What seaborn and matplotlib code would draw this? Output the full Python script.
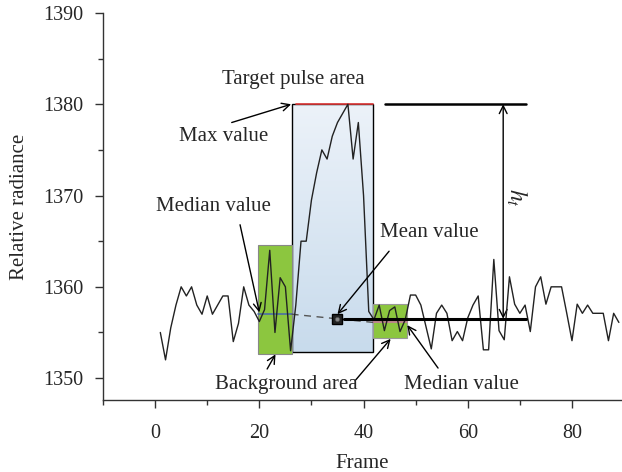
import numpy as np
import pandas as pd
import seaborn as sns
import matplotlib.pyplot as plt
from matplotlib.patches import Rectangle
from matplotlib.colors import LinearSegmentedColormap

# radiance trace, one value per frame
frames = list(range(1, 90))
radiance = [
    1355, 1352, 1355.5, 1358, 1360, 1359, 1360, 1358, 1357, 1359,
    1357, 1358, 1359, 1359, 1354, 1356, 1360, 1358, 1357.3, 1356.2,
    1357.5, 1364, 1355, 1361, 1360, 1353, 1358, 1365, 1365, 1369.5,
    1372.5, 1375, 1374, 1376.5, 1378, 1379, 1380, 1374, 1378, 1370,
    1357.3, 1356.4, 1358, 1355.2, 1357.4, 1357.8, 1355.1, 1356.4, 1359.1, 1359.1,
    1358, 1355.6, 1353.2, 1357.1, 1358, 1357.1, 1354.1, 1355.1, 1354.1, 1356.6,
    1358, 1359, 1353.1, 1353.1, 1363, 1355.2, 1354.2, 1361.1, 1358.1, 1357.1,
    1358, 1355.1, 1360, 1361.1, 1358.1, 1360, 1360, 1360, 1357.1, 1354.1,
    1358.1, 1357.1, 1358, 1357.1, 1357.1, 1357.1, 1354.1, 1357.1, 1356.1,
]

# regions / summary values
pulse_span = [26.2, 41.9]
pulse_bottom = 1352.9
max_value = 1380
bg_left_span = [19.8, 26.2]
bg_left_y = [1352.6, 1364.6]
bg_right_span = [41.9, 48.3]
bg_right_y = [1354.4, 1358.1]
median_left = 1357.0
median_right = 1356.1
mean_frame = 34.9
mean_value = 1356.5

x_ticks = [0, 20, 40, 60, 80]
y_ticks = [1350, 1360, 1370, 1380, 1390]

df = pd.DataFrame({"Frame": frames, "Relative radiance": radiance})

sns.set_style("ticks")
plt.rcParams["font.family"] = ["Liberation Serif", "DejaVu Serif"]
plt.rcParams["mathtext.fontset"] = "stix"

fig = plt.figure(figsize=(6.22, 4.72), dpi=100)
ax = fig.add_axes([0.1656, 0.1525, 0.8344, 0.82])

# target pulse area (gradient box)
cmap = LinearSegmentedColormap.from_list("pulse", ["#ecf2f9", "#c8dbec"])
ax.imshow(np.linspace(0, 1, 100).reshape(-1, 1), extent=[pulse_span[0], pulse_span[1], pulse_bottom, max_value],
          cmap=cmap, aspect="auto", origin="upper", zorder=1)
ax.add_patch(Rectangle((pulse_span[0], pulse_bottom), pulse_span[1] - pulse_span[0], max_value - pulse_bottom,
                       fill=False, ec="black", lw=1.0, zorder=2))

# background areas
ax.add_patch(Rectangle((bg_left_span[0], bg_left_y[0]), bg_left_span[1] - bg_left_span[0], bg_left_y[1] - bg_left_y[0],
                       fc="#8cc63f", ec="#888888", lw=0.8, zorder=2))
ax.add_patch(Rectangle((bg_right_span[0], bg_right_y[0]), bg_right_span[1] - bg_right_span[0], bg_right_y[1] - bg_right_y[0],
                       fc="#8cc63f", ec="#999999", lw=0.8, zorder=2))

# medians and dashed link
ax.plot(bg_left_span, [median_left, median_left], color="#4a6ea8", lw=1.2, zorder=3)
ax.plot(bg_right_span, [median_right, median_right], color="#c77b9b", lw=1.2, zorder=3)
ax.plot([bg_left_span[1], bg_right_span[0]], [median_left, median_right], color="#555555", lw=1.0,
        ls=(0, (5, 4)), zorder=3)

# max value line
ax.plot([pulse_span[0] + 0.8, pulse_span[1]], [max_value, max_value], color="#e03a3a", lw=1.2, zorder=3)

sns.lineplot(data=df, x="Frame", y="Relative radiance", color="#222222", lw=1.0, ax=ax, zorder=4)

# mean marker
ax.plot(mean_frame, mean_value, "s", ms=7, mfc="#222222", mec="black", zorder=6)
ax.plot(mean_frame, mean_value, "o", ms=3, mfc="#888888", mec="#555555", mew=0.5, zorder=7)

# h_t construction
ax.plot([36.3, 71.2], [mean_value, mean_value], color="black", lw=2.2, zorder=5)
ax.plot([44.2, 71.2], [max_value, max_value], color="black", lw=1.8, zorder=5)
ax.annotate("", xy=(66.8, max_value), xytext=(66.8, mean_value),
            arrowprops=dict(arrowstyle="<->", lw=1.0, color="black", mutation_scale=14, shrinkA=0, shrinkB=0))
ax.text(69.4, 1369.8, "$h_t$", rotation=270, fontsize=17, ha="center", va="center")

fs = 15
ax.text(26.5, 1382.7, "Target pulse area", fontsize=fs, ha="center", va="center")
ax.text(13.1, 1376.5, "Max value", fontsize=fs, ha="center", va="center")
ax.text(11.2, 1368.8, "Median value", fontsize=fs, ha="center", va="center")
ax.text(52.7, 1366.0, "Mean value", fontsize=fs, ha="center", va="center")
ax.text(25.1, 1349.3, "Background area", fontsize=fs, ha="center", va="center")
ax.text(58.7, 1349.3, "Median value", fontsize=fs, ha="center", va="center")

arrows = [
    ((14.7, 1378.0), (26.1, 1380.0)),
    ((16.3, 1366.8), (20.0, 1357.2)),
    ((44.9, 1363.9), (35.0, 1357.0)),
    ((21.5, 1351.0), (23.1, 1352.6)),
    ((38.5, 1349.8), (45.2, 1354.3)),
    ((54.3, 1351.1), (48.4, 1355.8)),
]
for start, end in arrows:
    ax.annotate("", xy=end, xytext=start,
                arrowprops=dict(arrowstyle="->", lw=1.0, color="black", mutation_scale=14, shrinkA=0, shrinkB=0),
                zorder=8)

ax.set_xlim(-10, 89.6)
ax.set_ylim(1347.6, 1390)
ax.set_xticks(x_ticks)
ax.set_yticks(y_ticks)
ax.set_xticks([-10, 10, 30, 50, 70], minor=True)
ax.set_yticks([1355, 1365, 1375, 1385], minor=True)
ax.tick_params(axis="both", which="major", labelsize=14.5, length=6, width=1, color="#333333")
ax.tick_params(axis="x", which="major", pad=11)
ax.tick_params(axis="y", which="major", pad=8)
ax.tick_params(axis="both", which="minor", length=3.5, width=1, color="#333333")
ax.set_xlabel("Frame", fontsize=15, labelpad=8)
ax.set_ylabel("Relative radiance", fontsize=15, labelpad=10)
sns.despine(ax=ax)
for side in ["left", "bottom"]:
    ax.spines[side].set_color("#333333")
    ax.spines[side].set_linewidth(1.0)

fig.savefig("out.png", dpi=100)
